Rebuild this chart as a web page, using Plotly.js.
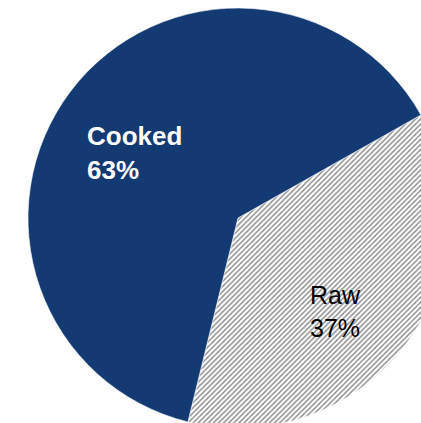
<!DOCTYPE html>
<html>
<head>
<meta charset="utf-8">
<script src="https://cdn.plot.ly/plotly-3.0.1.min.js"></script>
<style>
html,body{margin:0;padding:0;overflow:hidden;background:#fff;width:421px;height:423px;}
#chart{width:476px;height:436px;}
</style>
</head>
<body>
<div id="chart"></div>
<script>
const labels = ["Raw", "Cooked"];
const values = [37, 63];
const sliceColors = ["#ffffff", "#133a73"];
const patternShapes = ["/", ""];
const textColors = ["#000000", "#ffffff"];
const textWeights = ["normal", "bold"];

const total = values.reduce((a, b) => a + b, 0);
const pct = values.map(v => Math.round(v / total * 100));

const trace = {
  type: "pie",
  labels: labels,
  values: values,
  sort: false,
  direction: "clockwise",
  rotation: 60.6,
  textinfo: "none",
  hoverinfo: "label+percent",
  showlegend: false,
  marker: {
    colors: sliceColors,
    line: {color: "#ffffff", width: 0.6},
    pattern: {
      shape: patternShapes,
      fgcolor: "#8c8c8c",
      bgcolor: "#ffffff",
      size: 3.6,
      solidity: 0.38
    }
  }
};

const labelPos = {Raw: {x: 0.712, y: 0.277, anchor: "center", align: "center", size: 25},
                  Cooked: {x: 0.168, y: 0.655, anchor: "left", align: "left", size: 26}};

const annotations = labels.map((l, i) => ({
  xref: "paper", yref: "paper",
  x: labelPos[l].x, y: labelPos[l].y,
  xanchor: labelPos[l].anchor, yanchor: "middle",
  align: labelPos[l].align,
  showarrow: false,
  text: (textWeights[i] === "bold" ? "<b>" + l + "<br>" + pct[i] + "%</b>" : l + "<br>" + pct[i] + "%"),
  font: {family: "Liberation Sans, Arial, sans-serif", size: labelPos[l].size, color: textColors[i]}
}));

const layout = {
  width: 476, height: 436,
  margin: {l: 8, r: 8, t: 8, b: 8},
  paper_bgcolor: "#ffffff",
  plot_bgcolor: "#ffffff",
  annotations: annotations,
  showlegend: false
};

Plotly.newPlot("chart", [trace], layout, {displayModeBar: false, staticPlot: true});
</script>
</body>
</html>
